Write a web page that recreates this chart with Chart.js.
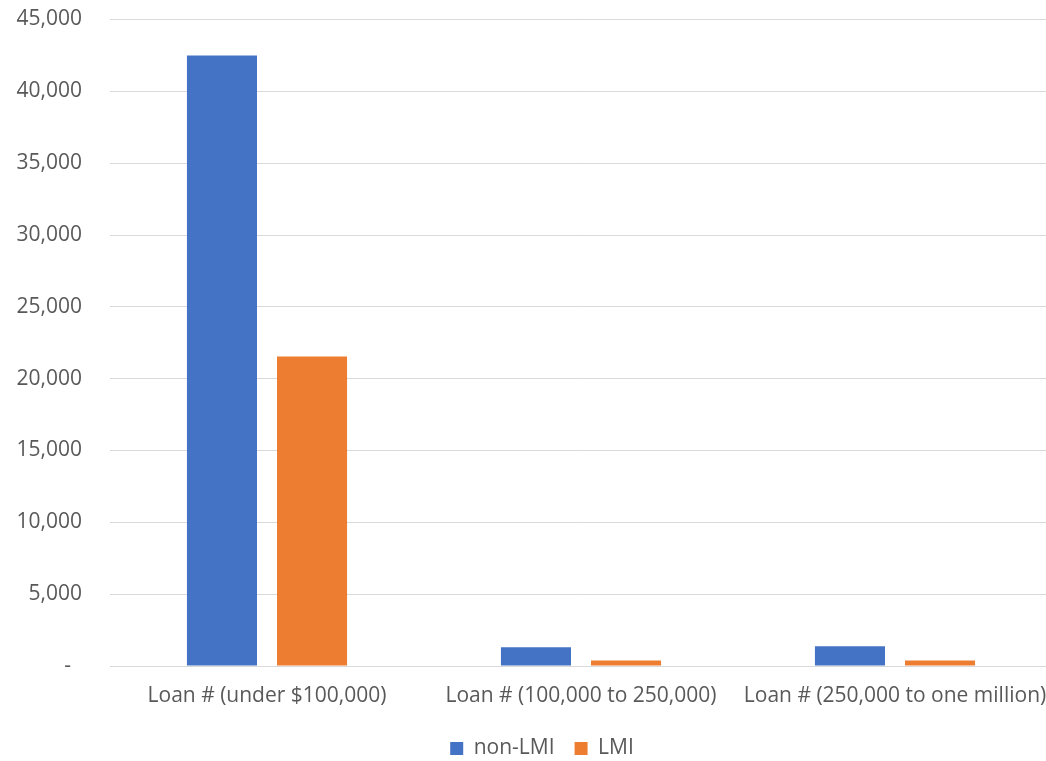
<!DOCTYPE html>
<html>
<head>
<meta charset="utf-8">
<script src="https://cdn.jsdelivr.net/npm/chart.js@4/dist/chart.umd.min.js"></script>
<style>
  html, body { margin: 0; padding: 0; background: #ffffff; overflow: hidden; }
  #chart { display: block; }
</style>
</head>
<body>
<canvas id="chart" width="1046" height="761"></canvas>
<script>
// Loan counts by loan size, split by borrower income group
const categories = [
  'Loan # (under $100,000)',
  'Loan # (100,000 to 250,000)',
  'Loan # (250,000 to one million)'
];
const nonLmiLoans = [42500, 1310, 1380];
const lmiLoans = [21550, 380, 380];
const yTicks = [0, 5000, 10000, 15000, 20000, 25000, 30000, 35000, 40000, 45000];

const FONT = '"Open Sans", sans-serif';
const TEXT = '#595959';

// After layout: let the plot area run a few pixels past the right edge,
// and nudge the bottom legend into place
const layoutTweaks = {
  id: 'layoutTweaks',
  afterLayout(chart) {
    const extra = 6;
    const x = chart.scales.x;
    chart.chartArea.right += extra;
    chart.chartArea.width += extra;
    x.right += extra;
    x.width += extra;
    x.configure();

    const lg = chart.legend;
    if (lg) {
      const dx = 19, dy = 8;
      lg.left += dx; lg.right += dx;
      lg.top += dy; lg.bottom += dy;
    }
  }
};

new Chart(document.getElementById('chart'), {
  type: 'bar',
  data: {
    labels: categories,
    datasets: [
      { label: 'non-LMI', data: nonLmiLoans, backgroundColor: '#4472C4' },
      { label: 'LMI', data: lmiLoans, backgroundColor: '#ED7D31' }
    ]
  },
  plugins: [layoutTweaks],
  options: {
    responsive: false,
    animation: false,
    devicePixelRatio: 1,
    layout: { padding: 0 },
    datasets: {
      bar: { categoryPercentage: 0.5736, barPercentage: 0.778 }
    },
    plugins: {
      tooltip: { enabled: false },
      legend: {
        position: 'bottom',
        labels: {
          font: { family: FONT, size: 21 },
          color: TEXT,
          boxWidth: 13,
          boxHeight: 13,
          padding: 20
        }
      }
    },
    scales: {
      x: {
        grid: { display: false, drawTicks: false },
        border: { display: true, color: '#d9d9d9', width: 1 },
        ticks: { font: { family: FONT, size: 21 }, color: TEXT, padding: 17, maxRotation: 0 },
        afterFit(scale) {
          scale.height = 44;
          scale.paddingLeft = 0;
          scale.paddingRight = 0;
        }
      },
      y: {
        min: 0,
        max: 45000,
        afterBuildTicks(scale) { scale.ticks = yTicks.map(v => ({ value: v })); },
        grid: { color: '#d9d9d9', lineWidth: 1, drawTicks: false },
        border: { display: false },
        ticks: {
          font: { family: FONT, size: 21 },
          color: TEXT,
          padding: 28,
          callback: v => v === 0 ? '-  ' : v.toLocaleString('en-US')
        },
        afterFit(scale) {
          scale.width = 110;
          scale.paddingTop = 19.5;
          scale.paddingBottom = 0;
        }
      }
    }
  }
});
</script>
</body>
</html>
